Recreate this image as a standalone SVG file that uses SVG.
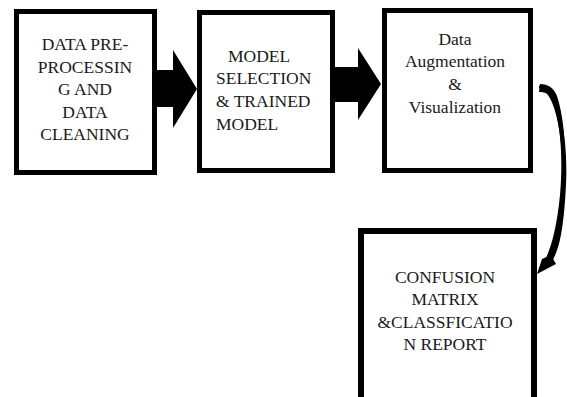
<svg xmlns="http://www.w3.org/2000/svg" width="567" height="397" viewBox="0 0 567 397">
<style>
.box{fill:#fff;stroke:#000;stroke-width:5}
text{font-family:'Liberation Serif','DejaVu Serif',serif;font-size:17.5px;fill:#1a1a1a}
.c{text-anchor:middle}
</style>
<rect width="567" height="397" fill="#fff"/>
<g id="n1" font-family="Liberation Serif, serif">
<rect class="box" x="16.5" y="11.5" width="138" height="161"/>
<text class="c" x="85" y="50">DATA PRE-</text>
<text class="c" x="85" y="73">PROCESSIN</text>
<text class="c" x="85" y="95">G AND</text>
<text class="c" x="85" y="118">DATA</text>
<text class="c" x="85" y="140">CLEANING</text>
</g>
<g id="n2">
<rect class="box" x="199.5" y="12.5" width="133" height="158"/>
<text x="228" y="62">MODEL</text>
<text x="216" y="84">SELECTION</text>
<text x="216" y="107">&amp; TRAINED</text>
<text x="216" y="130">MODEL</text>
</g>
<g id="n3">
<rect class="box" x="384.5" y="10.5" width="146" height="160"/>
<text class="c" x="455" y="45">Data</text>
<text class="c" x="455" y="67">Augmentation</text>
<text class="c" x="455" y="90">&amp;</text>
<text class="c" x="455" y="113">Visualization</text>
</g>
<g id="n4">
<path d="M361 400 V231 H534 V400" fill="#fff" stroke="#000" stroke-width="6"/>
<text class="c" x="445" y="283">CONFUSION</text>
<text class="c" x="445" y="305">MATRIX</text>
<text class="c" x="445" y="328">&amp;CLASSFICATIO</text>
<text class="c" x="445" y="350">N REPORT</text>
</g>
<g id="connectors">
<polygon points="157,70 173,70 173,50 197,89 173,128 173,107 157,107" fill="#000"/>
<polygon points="335,67 358,67 358,48 381,84 358,120 358,102 335,102" fill="#000"/>
<path d="M540 84 C548 84 554 88 557 96 C565 120 567 160 564 200 C561 232 556 252 549 262 L546 258 C552 245 557 225 560 195 C563 160 561 125 553 102 C550 94 546 92 539 92 Z" fill="#000"/>
<path d="M541 87 C558 92 566 140 564 185 C562 225 558 250 549 262" fill="none" stroke="#000" stroke-width="4" stroke-linecap="round"/>
<polygon points="537,274 542,259 551,255 556,264" fill="#000"/>
</g>
</svg>
